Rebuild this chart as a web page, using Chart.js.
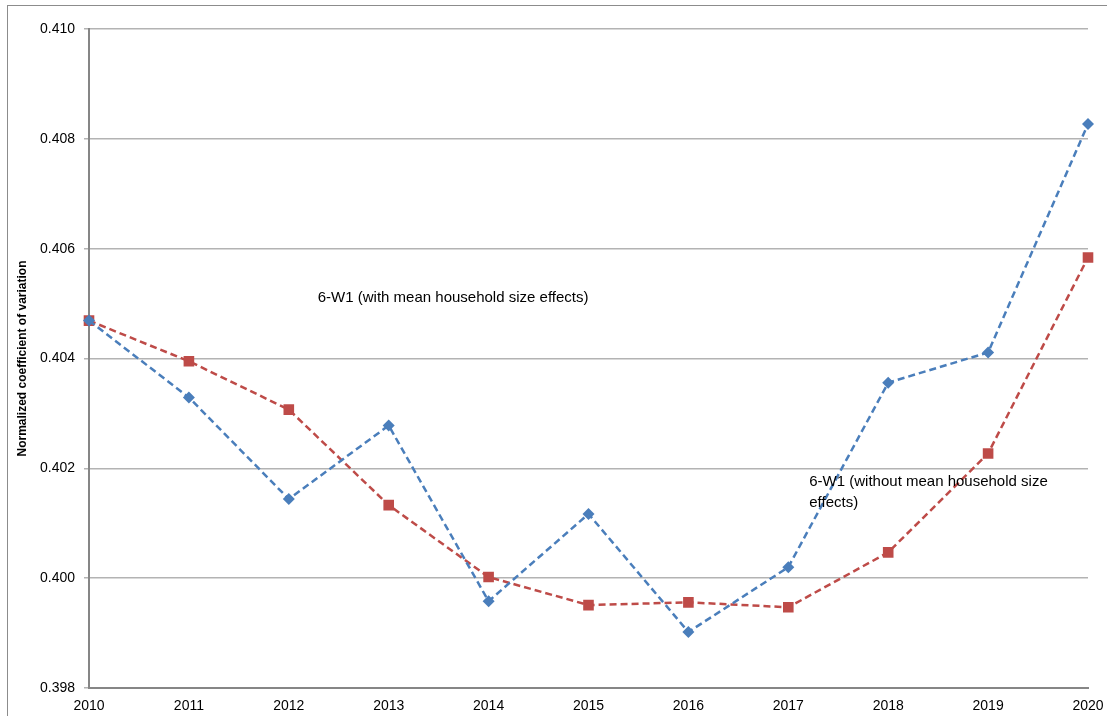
<!DOCTYPE html>
<html>
<head>
<meta charset="utf-8">
<script src="https://cdn.jsdelivr.net/npm/chart.js@4/dist/chart.umd.min.js"></script>
<style>
  html, body { margin: 0; padding: 0; background: #fff; }
  #wrap { width: 1107px; height: 716px; position: relative; }
</style>
</head>
<body>
<div id="wrap"><canvas id="grafico-cv"></canvas></div>
<script>
var anos = ["2010", "2011", "2012", "2013", "2014", "2015", "2016", "2017", "2018", "2019", "2020"];
var comEfeito = [0.40469, 0.40329, 0.40144, 0.40278, 0.39958, 0.40117, 0.39902, 0.40020, 0.40356, 0.40411, 0.40827];
var semEfeito = [0.40469, 0.40395, 0.40307, 0.40133, 0.40002, 0.39951, 0.39956, 0.39947, 0.40047, 0.40227, 0.40584];
var yMin = 0.398, yMax = 0.410, yStep = 0.002;

var fonte = "'Liberation Sans', Arial, sans-serif";

// caixas de texto e moldura externa
var anotacoes = {
  id: "anotacoes",
  beforeDraw: function (chart) {
    var ctx = chart.ctx;
    ctx.save();
    ctx.strokeStyle = "#8c8c8c";
    ctx.lineWidth = 1;
    ctx.strokeRect(7.5, 5.5, 1120, 720);
    ctx.restore();
  },
  afterDatasetsDraw: function (chart) {
    var ctx = chart.ctx;
    var x = chart.scales.x, y = chart.scales.y;
    ctx.save();
    ctx.fillStyle = "#000";
    ctx.font = "15px " + fonte;
    ctx.textBaseline = "middle";
    ctx.textAlign = "left";
    ctx.fillText("6-W1 (with mean household size effects)", x.getPixelForValue(2.29), y.getPixelForValue(0.40511));
    ctx.fillText("6-W1 (without mean household size", x.getPixelForValue(7.21), y.getPixelForValue(0.40176));
    ctx.fillText("effects)", x.getPixelForValue(7.21), y.getPixelForValue(0.40137));
    ctx.restore();
  }
};

var grafico = document.getElementById("grafico-cv").getContext("2d");

new Chart(grafico, {
  type: "line",
  data: {
    labels: anos,
    datasets: [
      {
        label: "6-W1 (with mean household size effects)",
        data: comEfeito,
        borderColor: "#4a7ebb",
        backgroundColor: "#4a7ebb",
        borderWidth: 2.5,
        borderDash: [7, 4],
        pointStyle: "rectRot",
        pointRadius: 6,
        pointBorderWidth: 0,
        tension: 0,
      },
      {
        label: "6-W1 (without mean household size effects)",
        data: semEfeito,
        borderColor: "#be4b48",
        backgroundColor: "#be4b48",
        borderWidth: 2.5,
        borderDash: [7, 4],
        pointStyle: "rect",
        pointRadius: 7.5,
        pointBorderWidth: 0,
        tension: 0,
      },
    ],
  },
  options: {
    responsive: true,
    maintainAspectRatio: false,
    animation: false,
    layout: {
      padding: { top: 29, right: 19, bottom: 0, left: 0 },
    },
    plugins: {
      title: { display: false },
      legend: { display: false },
      tooltip: { enabled: false },
    },
    scales: {
      x: {
        offset: false,
        grid: { display: false, drawTicks: false },
        border: { display: true, color: "#868686", width: 2 },
        ticks: {
          padding: 10,
          maxRotation: 0,
          color: "#000",
          font: { family: fonte, size: 14 },
        },
        afterFit: function (s) {
          s.height = 28;
          s.paddingLeft = 0;
          s.paddingRight = 0;
        },
      },
      y: {
        min: yMin,
        max: yMax,
        grid: {
          color: "#b3b3b3",
          lineWidth: 1.5,
          tickLength: 5,
        },
        border: { display: true, color: "#868686", width: 2 },
        ticks: {
          stepSize: yStep,
          padding: 9,
          color: "#000",
          font: { family: fonte, size: 14 },
          callback: function (v) { return v.toFixed(3); },
        },
        title: {
          display: true,
          text: "Normalized coefficient of variation",
          color: "#000",
          padding: { top: 15, bottom: 4 },
          font: { family: fonte, size: 12, weight: "bold" },
        },
        afterFit: function (s) { s.width = 89; },
      },
    },
  },
  plugins: [anotacoes],
});
</script>
</body>
</html>
